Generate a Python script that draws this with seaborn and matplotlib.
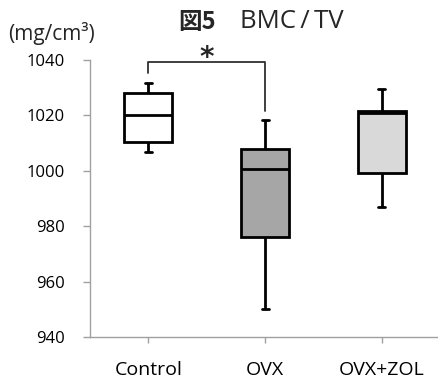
import matplotlib
matplotlib.use("Agg")
import matplotlib.pyplot as plt
import seaborn as sns
import pandas as pd

# five-number summaries (min, q1, median, q3, max)
categories = ["Control", "OVX", "OVX+ZOL"]
control_vals = [1006.8, 1010.5, 1020.1, 1028.2, 1031.8]
ovx_vals = [950.2, 976.0, 1000.5, 1007.8, 1018.3]
zol_vals = [987.0, 999.1, 1021.0, 1021.6, 1029.4]
fill_colors = ["#ffffff", "#a6a6a6", "#d9d9d9"]
yticks = [940, 960, 980, 1000, 1020, 1040]

sns.set_style("white")
plt.rcParams['font.family'] = ['Open Sans', 'Noto Sans CJK JP', 'DejaVu Sans']

df = pd.DataFrame({
    "group": sum([[c] * 5 for c in categories], []),
    "value": control_vals + ovx_vals + zol_vals,
})

fig = plt.figure(figsize=(4.38, 3.78), dpi=100)
ax = fig.add_axes([90 / 438, 41 / 378, 350 / 438, 277 / 378])

sns.boxplot(data=df, x="group", y="value", hue="group", order=categories,
            hue_order=categories, palette=fill_colors, saturation=1,
            whis=(0, 100), width=0.41, legend=False, ax=ax,
            linecolor="black", linewidth=2.0,
            medianprops=dict(color="black", linewidth=2.0),
            capprops=dict(color="black", linewidth=2.0),
            whiskerprops=dict(color="black", linewidth=2.0),
            capwidths=0.06)

ax.set_xlim(-0.5, 2.5)
ax.set_ylim(940, 1040)
ax.set_yticks(yticks)
ax.set_yticklabels([str(t) for t in yticks])
ax.set_xlabel("")
ax.set_ylabel("")
for s in ["top", "right"]:
    ax.spines[s].set_visible(False)
for s in ["left", "bottom"]:
    ax.spines[s].set_color("#a0a0a0")
    ax.spines[s].set_linewidth(1.0)
ax.tick_params(axis="y", direction="out", length=5, width=1, color="#a0a0a0",
               pad=13, labelsize=12, labelcolor="#000000", left=True)
ax.tick_params(axis="x", direction="out", length=4, width=1, color="#a0a0a0",
               pad=13, labelsize=14, labelcolor="#000000", bottom=True)

# significance bracket
ax.plot([0, 0, 1, 1], [1035.2, 1039.4, 1039.4, 1021.6], color="#303030",
        linewidth=1.3, clip_on=False)
ax.text(0.5, 1040.8, "*", ha="center", va="center", fontsize=20,
        fontweight="bold", family=["DejaVu Sans"], clip_on=False)

fig.text(197 / 438, 1 - 22 / 378, "図5", ha="center", va="center",
         fontsize=17, fontweight="bold", family=["Noto Sans CJK JP"])
fig.text(292 / 438, 1 - 22 / 378, "BMC\u2009/\u2009TV", ha="center",
         va="center", fontsize=18.5, family=["Open Sans", "DejaVu Sans"])
fig.text(8 / 438, 1 - 33.5 / 378, "(mg/cm³)", ha="left", va="center",
         fontsize=15)

fig.savefig("out.png", dpi=100)
